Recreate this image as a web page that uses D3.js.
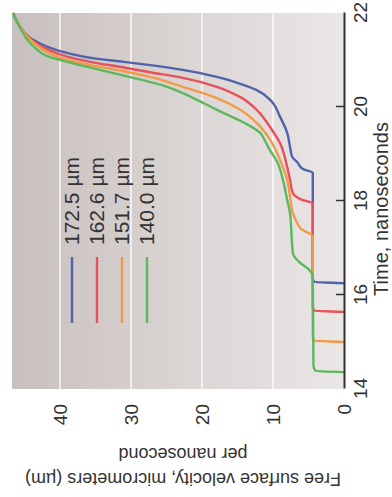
<!DOCTYPE html>
<html>
<head>
<meta charset="utf-8">
<title>Free surface velocity</title>
<style>
  *{margin:0;padding:0;}
  body{background:#fff;}
  svg{display:block;}
  text{font-family:"Liberation Sans",Arial,Helvetica,sans-serif;fill:#333;}
</style>
</head>
<body>
<div class="container"></div>
<script src="https://cdn.jsdelivr.net/npm/d3@7/dist/d3.min.js"></script>
<script>
var width = 392;   // picture width
var height = 497;  // picture height

var timeTicks = [14, 16, 18, 20, 22];
var velocityTicks = [0, 10, 20, 30, 40];
var gridValues = [10, 20, 30, 40];
var labels = ["172.5 \u00b5m", "162.6 \u00b5m", "151.7 \u00b5m", "140.0 \u00b5m"];
var colors = ["#4f63ad", "#e8505b", "#f29a45", "#5cb85f"];

// [time ns, velocity um/ns]
var s172 = [[16.25,0],[16.28,4.2],[16.36,4.4],[18.6,4.4],[18.68,5.8],[18.83,6.6],[18.94,7.3],[19.15,7.6],[19.45,8.0],[19.79,9.0],[20.15,10.4],[20.36,12.3],[20.47,14.2],[20.64,17.9],[20.79,22.7],[20.89,27.3],[20.96,31],[21.03,35],[21.15,39],[21.26,41.4],[21.43,43.8],[21.7,45.6],[22,46.6]];
var s162 = [[15.64,0],[15.67,4.2],[15.75,4.4],[17.95,4.4],[18.03,6.0],[18.17,7.2],[18.45,7.6],[18.72,8.0],[19.23,9.0],[19.57,10.4],[19.94,12.3],[20.21,14.6],[20.43,17.9],[20.62,22.7],[20.74,27.3],[20.84,31],[20.94,35],[21.07,39],[21.2,41.4],[21.4,43.8],[21.7,45.6],[22,46.6]];
var s152 = [[15.0,0],[15.03,4.2],[15.11,4.4],[17.25,4.4],[17.4,6.0],[17.53,6.6],[17.74,7.2],[18.1,7.6],[18.45,8.0],[18.87,9.0],[19.3,10.4],[19.66,12.3],[19.94,14.6],[20.19,17.9],[20.43,22.7],[20.64,27.3],[20.76,31],[20.87,35],[21.0,39],[21.14,41.4],[21.38,43.8],[21.7,45.6],[22,46.6]];
var s140 = [[14.36,0],[14.39,4.0],[14.5,4.3],[16.4,4.4],[16.55,5.0],[16.7,6.3],[16.89,7.2],[17.17,7.35],[17.74,7.6],[18.02,8.0],[18.45,8.6],[18.8,9.3],[19.1,10.5],[19.3,11.2],[19.45,11.8],[19.66,14.0],[19.94,17.9],[20.21,21.5],[20.43,24.9],[20.62,29.7],[20.79,34.4],[20.96,39],[21.06,41.4],[21.3,43.8],[21.68,45.6],[22,46.6]];
var series = [s172, s162, s152, s140];

// the figure lies on its side: draw it upright, then turn the group
var x = d3.scaleLinear().domain([14, 22]).range([108, 484]);
var y = d3.scaleLinear().domain([0, 46.76]).range([344, 12]);

var svg = d3.select(".container")
    .append("svg")
    .attr("width", width)
    .attr("height", height);

var defs = svg.append("defs");
var grad = defs.append("linearGradient")
    .attr("id", "bg")
    .attr("x1", 0).attr("y1", 0)
    .attr("x2", 0).attr("y2", 1);
grad.append("stop").attr("offset", "0%").attr("stop-color", "#c8c0bf");
grad.append("stop").attr("offset", "100%").attr("stop-color", "#ebe7e6");

var g = svg.append("g")
    .attr("transform", "translate(0," + height + ") rotate(-90)");

// panel
g.append("rect")
    .attr("x", x(14))
    .attr("y", y(46.76))
    .attr("width", x(22) - x(14))
    .attr("height", y(0) - y(46.76))
    .attr("fill", "url(#bg)");

// grid
g.selectAll(".grid")
    .data(gridValues)
    .enter()
    .append("line")
    .attr("class", "grid")
    .attr("x1", x(14))
    .attr("x2", x(22))
    .attr("y1", function(d){ return y(d); })
    .attr("y2", function(d){ return y(d); })
    .attr("stroke", "#fbf9f9")
    .attr("stroke-width", 1.5);

// curves
var line = d3.line()
    .x(function(d){ return x(d[0]); })
    .y(function(d){ return y(d[1]); })
    .curve(d3.curveMonotoneX);

g.selectAll(".curve")
    .data(series)
    .enter()
    .append("path")
    .attr("class", "curve")
    .attr("d", line)
    .attr("fill", "none")
    .attr("stroke", function(d, i){ return colors[i]; })
    .attr("stroke-width", 2.4)
    .attr("stroke-linejoin", "round");

// time axis
var axis = g.append("g")
    .attr("transform", "translate(0," + y(0) + ")")
    .call(d3.axisBottom(x)
        .tickValues(timeTicks)
        .tickSizeInner(-8)
        .tickSizeOuter(0)
        .tickPadding(10));
axis.select(".domain").attr("stroke", "#333").attr("stroke-width", 2);
axis.selectAll(".tick line")
    .attr("stroke", "#333")
    .attr("stroke-width", 1.5)
    .style("display", function(d){ return (d == 14 || d == 22) ? "none" : null; });
axis.selectAll(".tick text")
    .attr("font-size", 19)
    .style("font-family", "'Liberation Sans',Arial,sans-serif")
    .attr("fill", "#333");

g.append("text")
    .attr("x", 288)
    .attr("y", 388)
    .attr("text-anchor", "middle")
    .attr("font-size", 20)
    .text("Time, nanoseconds");

// velocity labels
g.selectAll(".vlab")
    .data(velocityTicks)
    .enter()
    .append("text")
    .attr("class", "vlab")
    .attr("x", 93)
    .attr("y", function(d){ return y(d); })
    .attr("dy", "0.35em")
    .attr("text-anchor", "end")
    .attr("font-size", 19)
    .text(function(d){ return d; });

var yTitle = g.append("text")
    .attr("transform", "translate(24," + 183 + ") rotate(-90)")
    .attr("text-anchor", "middle")
    .attr("font-size", 18);
yTitle.append("tspan").attr("x", 0).attr("y", 0).text("Free surface velocity, micrometers (\u00b5m)");
yTitle.append("tspan").attr("x", 0).attr("y", 25).text("per nanosecond");

// legend
var legend = g.selectAll(".leg")
    .data(labels)
    .enter()
    .append("g")
    .attr("class", "leg")
    .attr("transform", function(d, i){ return "translate(174," + (72 + i * 25) + ")"; });
legend.append("line")
    .attr("x1", 0).attr("x2", 66)
    .attr("stroke", function(d, i){ return colors[i]; })
    .attr("stroke-width", 2.4);
legend.append("text")
    .attr("x", 78)
    .attr("dy", "0.35em")
    .attr("font-size", 21)
    .text(function(d){ return d; });
</script>
</body>
</html>
